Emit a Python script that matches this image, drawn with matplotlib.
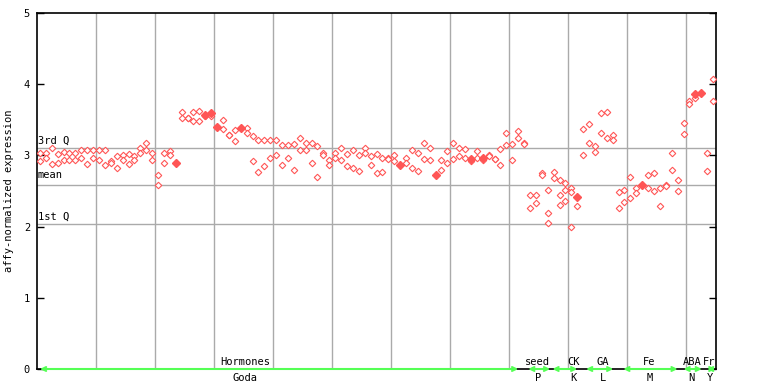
import numpy as np
import matplotlib
matplotlib.use("Agg")
import matplotlib.pyplot as plt

# expression values, two replicates per sample (index 0..114)
rep_a = [3.04, 3.03, 3.11, 3.02, 3.05, 3.04, 3.04, 3.07, 3.07, 3.07,
         3.08, 3.07, 2.92, 2.99, 3.00, 3.02, 2.99, 3.11, 3.17, 3.04,
         2.72, 3.03, 3.06, 2.90, 3.61, 3.52, 3.61, 3.63, 3.57, 3.59,
         3.40, 3.50, 3.28, 3.35, 3.39, 3.38, 3.27, 3.21, 3.22, 3.22,
         3.22, 3.14, 3.14, 3.16, 3.24, 3.17, 3.18, 3.13, 3.03, 2.93,
         3.03, 3.11, 3.02, 3.07, 3.00, 3.10, 2.99, 3.02, 2.97, 2.96,
         3.00, 2.87, 2.96, 3.07, 3.04, 3.17, 3.10, 2.73, 2.94, 3.06,
         3.17, 3.11, 3.09, 2.95, 3.06, 2.97, 3.00, 2.95, 3.09, 3.31,
         3.16, 3.34, 3.18, 2.45, 2.44, 2.75, 2.52, 2.76, 2.66, 2.61,
         2.54, 2.42, 3.37, 3.44, 3.13, 3.59, 3.61, 3.28, 2.48, 2.51,
         2.69, 2.54, 2.59, 2.72, 2.75, 2.54, 2.59, 3.03, 2.65, 3.46,
         3.77, 3.86, 3.87, 3.03, 4.07]
rep_b = [2.92, 2.96, 2.88, 2.89, 2.94, 2.94, 2.93, 2.96, 2.88, 2.96,
         2.93, 2.87, 2.89, 2.83, 2.94, 2.88, 2.94, 3.03, 3.07, 2.93,
         2.59, 2.90, 3.01, 2.89, 3.53, 3.52, 3.48, 3.48, 3.56, 3.56,
         3.40, 3.37, 3.28, 3.20, 3.38, 3.32, 2.92, 2.77, 2.85, 2.97,
         3.00, 2.87, 2.96, 2.79, 3.07, 3.07, 2.90, 2.69, 3.00, 2.86,
         2.96, 2.94, 2.85, 2.83, 2.78, 3.04, 2.87, 2.75, 2.76, 2.95,
         2.92, 2.87, 2.89, 2.82, 2.78, 2.95, 2.94, 2.73, 2.80, 2.89,
         2.95, 2.99, 2.97, 2.92, 2.97, 2.94, 2.99, 2.95, 2.87, 3.14,
         2.93, 3.24, 3.16, 2.26, 2.33, 2.72, 2.19, 2.68, 2.45, 2.52,
         2.49, 2.29, 3.00, 3.17, 3.05, 3.32, 3.24, 3.22, 2.26, 2.35,
         2.40, 2.47, 2.59, 2.54, 2.50, 2.29, 2.57, 2.79, 2.50, 3.30,
         3.72, 3.81, 3.87, 2.78, 3.77]
extra_idx = [86, 88, 89, 90]
extra_val = [2.05, 2.31, 2.36, 1.99]
filled_idx = [23, 28, 29, 30, 34, 61, 67, 73, 75, 91, 102, 111, 112]

q3, mean, q1 = 3.10, 2.58, 2.04

top_labels = ["Hormones", "seed", "CK", "GA", "Fe", "ABA", "Fr"]
bottom_labels = ["Goda", "P", "K", "L", "M", "N", "Y"]
label_pos = [34.7, 84.3, 90.4, 95.3, 103.2, 110.4, 113.4]
group_spans = [(0, 81), (82.7, 86.4), (86.8, 91), (92.5, 97.1),
               (98.8, 108), (109, 112.1), (113, 114.4)]

red = "#ff5555"
green = "#55ff55"
grid = "#aaaaaa"
mono = "DejaVu Sans Mono"

fig = plt.figure(figsize=(7.68, 3.84), dpi=100)
ax = fig.add_axes([37 / 768, 1 - 369 / 384, 679 / 768, 356 / 384])

n = len(rep_a)
x = np.arange(n)
hollow = dict(ls="none", marker="D", ms=3.3, mfc="white", mec=red, mew=0.8, zorder=3)
ax.plot(x, rep_a, **hollow)
ax.plot(x, rep_b, **hollow)
ax.plot(extra_idx, extra_val, **hollow)
ax.plot(filled_idx, [rep_a[i] for i in filled_idx], "D", ms=3.8, color=red, zorder=4)

ax.set_xlim(-0.5, n - 0.5)
ax.set_ylim(0, 5)

for v in np.arange(9.5, n - 1, 10):
    ax.axvline(v, color=grid, lw=1, zorder=1)
for v in (q3, mean, q1):
    ax.axhline(v, color=grid, lw=1, zorder=1)
ax.text(-0.4, q3 + 0.03, "3rd Q", family=mono, fontsize=7.5, va="bottom", ha="left")
ax.text(-0.4, mean + 0.07, "mean", family=mono, fontsize=7.5, va="bottom", ha="left")
ax.text(-0.4, q1 + 0.03, "1st Q", family=mono, fontsize=7.5, va="bottom", ha="left")

ax.set_xticks([])
ax.set_yticks(range(6))
ax.set_yticklabels([str(i) for i in range(6)], family=mono, fontsize=7.5)
ax.tick_params(axis="y", direction="in", length=5, width=1, right=True, pad=5)
for s in ax.spines.values():
    s.set_linewidth(1.2)
ax.set_ylabel("affy-normalized expression", family=mono, fontsize=7.5, labelpad=7)

for (a, b) in group_spans:
    ax.annotate("", xy=(b, 0), xytext=(a, 0),
                arrowprops=dict(arrowstyle="<->", color=green, lw=1.5,
                                mutation_scale=7, shrinkA=0, shrinkB=0),
                annotation_clip=False, zorder=5)
for lab, pos in zip(top_labels, label_pos):
    ax.text(pos, 0.03, lab, family=mono, fontsize=7.5, ha="center", va="bottom")
for lab, pos in zip(bottom_labels, label_pos):
    ax.text(pos, -0.05, lab, family=mono, fontsize=7.5, ha="center", va="top")

fig.savefig("out.png", dpi=100)
